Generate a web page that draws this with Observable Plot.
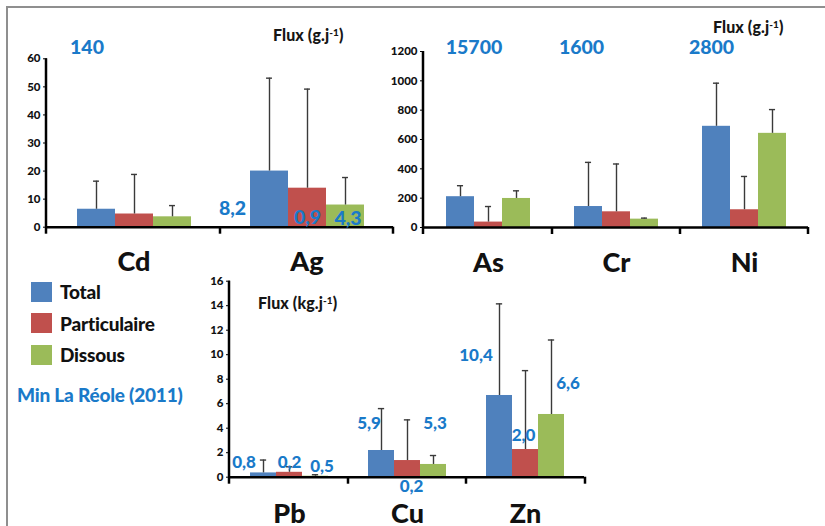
<!DOCTYPE html>
<html>
<head>
<meta charset="utf-8">
<script src="https://cdn.jsdelivr.net/npm/d3@7"></script>
<script src="https://cdn.jsdelivr.net/npm/@observablehq/plot@0.6"></script>
<style>
  body { margin: 0; background: #fff; }
  #root { position: relative; width: 825px; height: 526px; overflow: hidden; font-family: Lato, "Open Sans", sans-serif; background: #fff; }
  .panel { position: absolute; }
  .frame { position: absolute; left: 6px; top: 6px; width: 900px; height: 600px; border-left: 2px solid #8f8f8f; border-top: 2px solid #8f8f8f; }
  .flux { position: absolute; font-weight: 900; font-size: 16px; line-height: 16px; color: #161616; white-space: nowrap; letter-spacing: 0.1px; }
  .flux sup { font-size: 10px; vertical-align: 5px; line-height: 0; }
  .lg { position: absolute; display: flex; align-items: center; font-weight: 900; font-size: 19px; color: #111; white-space: nowrap; letter-spacing: -0.2px; }
  .sw { width: 21px; height: 20px; margin-right: 8px; }
  .minlabel { position: absolute; font-weight: 900; font-size: 19px; color: #1a7ac9; white-space: nowrap; letter-spacing: -0.2px; }
</style>
</head>
<body>
<div id="root"><div class="frame"></div></div>
<script>
// ---------- data ----------
const series = ["Total", "Particulaire", "Dissous"];
const colors = ["#4f81bd", "#c0504d", "#9bbb59"];
const annotColor = "#1a7ac9";

// Panel 1 : Cd, Ag (g/j)
const cats1 = ["Cd", "Ag"];
const total1 = [6.4, 20.0];
const part1 = [4.7, 13.9];
const diss1 = [3.7, 7.9];
const sdTotal1 = [10.0, 33.1];
const sdPart1 = [14.1, 35.3];
const sdDiss1 = [4.0, 9.8];
const yTicks1 = [0, 10, 20, 30, 40, 50, 60];

// Panel 2 : As, Cr, Ni (g/j)
const cats2 = ["As", "Cr", "Ni"];
const total2 = [210, 143, 690];
const part2 = [37, 107, 121];
const diss2 = [198, 57, 642];
const sdTotal2 = [75, 301, 294];
const sdPart2 = [106, 326, 227];
const sdDiss2 = [52, 7, 162];
const yTicks2 = [0, 200, 400, 600, 800, 1000, 1200];

// Panel 3 : Pb, Cu, Zn (kg/j)
const cats3 = ["Pb", "Cu", "Zn"];
const total3 = [0.35, 2.18, 6.67];
const part3 = [0.40, 1.36, 2.26];
const diss3 = [0.08, 1.04, 5.12];
const sdTotal3 = [1.05, 3.42, 7.48];
const sdPart3 = [0.45, 3.32, 6.44];
const sdDiss3 = [0.12, 0.73, 6.08];
const yTicks3 = [0, 2, 4, 6, 8, 10, 12, 14, 16];

// "Min La Réole (2011)" values (annotation text)
const minCats1 = ["Cd", "Ag", "Ag", "Ag"];
const minSeries1 = ["Total", "Total", "Particulaire", "Dissous"];
const minText1 = ["140", "8,2", "0,9", "4,3"];
const minCats2 = ["As", "Cr", "Ni"];
const minSeries2 = ["Total", "Total", "Total"];
const minText2 = ["15700", "1600", "2800"];
const minCats3 = ["Pb", "Pb", "Pb", "Cu", "Cu", "Cu", "Zn", "Zn", "Zn"];
const minSeries3 = ["Total", "Particulaire", "Dissous", "Total", "Particulaire", "Dissous", "Total", "Particulaire", "Dissous"];
const minText3 = ["0,8", "0,2", "0,5", "5,9", "0,2", "5,3", "10,4", "2,0", "6,6"];

// ---------- layout (label placement, not data) ----------
const annLayout1 = [{y: 63.8, dx: -9.5}, {y: 6.7, dx: -37}, {y: 3.5, dx: 0}, {y: 3.1, dx: 2.5}];
const annLayout2 = [{y: 1227, dx: 13.5}, {y: 1227, dx: -7}, {y: 1227, dx: -5}];
const annLayout3 = [{y: 1.2, dx: -19.5}, {y: 1.2, dx: 0}, {y: 0.87, dx: 6.5}, {y: 4.4, dx: -12.5}, {y: -0.8, dx: 4}, {y: 4.4, dx: 1.5}, {y: 9.93, dx: -23.5}, {y: 3.4, dx: -2}, {y: 7.65, dx: 16.5}];

function rows(cats, tot, part, diss, sdT, sdP, sdD) {
  const out = [];
  cats.forEach((c, i) => {
    out.push({cat: c, series: "Total", value: tot[i], sd: sdT[i]});
    out.push({cat: c, series: "Particulaire", value: part[i], sd: sdP[i]});
    out.push({cat: c, series: "Dissous", value: diss[i], sd: sdD[i]});
  });
  return out;
}
function annots(cats, ser, text, layout) {
  return cats.map((c, i) => ({cat: c, series: ser[i], text: text[i], y: layout[i].y, dx: layout[i].dx}));
}

const root = document.getElementById("root");
const padOuter = 0.72;

function panel(o) {
  const frameW = o.width - o.marginLeft - o.marginRight;
  const bw = frameW / o.cats.length / (3 + 2 * padOuter);
  const capInset = Math.max(0, (bw - 7) / 2);
  const yMax = o.ticks[o.ticks.length - 1];
  const annMarks = o.ann.map(a => Plot.text([a], {
    fx: "cat", x: "series", y: "y", text: "text", dx: a.dx,
    fill: annotColor, fontSize: o.annSize, fontWeight: 900
  }));
  const plot = Plot.plot({
    width: o.width, height: o.height,
    marginLeft: o.marginLeft, marginRight: o.marginRight,
    marginTop: o.marginTop, marginBottom: o.marginBottom,
    style: {background: "transparent", fontFamily: "Lato, 'Open Sans', sans-serif", overflow: "visible", color: "#111"},
    fx: {domain: o.cats, padding: 0, label: null},
    x: {domain: series, paddingInner: 0, paddingOuter: padOuter, axis: null},
    y: {domain: [0, yMax], axis: null},
    color: {domain: series, range: colors},
    marks: [
      Plot.barY(o.data, {fx: "cat", x: "series", y: "value", fill: "series"}),
      Plot.ruleX(o.data, {fx: "cat", x: "series", y1: "value", y2: d => d.value + d.sd, stroke: "#3a3a3a", strokeWidth: 1.4}),
      Plot.tickY(o.data, {fx: "cat", x: "series", y: d => d.value + d.sd, stroke: "#3a3a3a", strokeWidth: 1.4, insetLeft: capInset, insetRight: capInset}),
      Plot.ruleY([0], {stroke: "#000", strokeWidth: 2.5}),
      Plot.axisY({ticks: o.ticks, tickSize: 4, tickPadding: 3, fontSize: 11.5, fontWeight: 900, tickFormat: d => String(d), stroke: "#000"}),
      Plot.axisFx({anchor: "bottom", tickSize: 0, tickPadding: o.fxPad, fontSize: 27, fontWeight: 900, label: null}),
      ...annMarks
    ]
  });
  // axis line and category boundary ticks, from Plot's own scales
  const fxS = plot.scale("fx"), yS = plot.scale("y");
  const svg = d3.select(plot);
  const y0 = yS.apply(0), yTop = yS.apply(yMax);
  const g = svg.append("g").attr("stroke", "#000").attr("stroke-width", 2.5);
  g.append("line").attr("x1", o.marginLeft).attr("x2", o.marginLeft).attr("y1", yTop).attr("y2", y0 + 7);
  const bounds = o.cats.map(c => fxS.apply(c)).concat([o.width - o.marginRight]);
  bounds.slice(1).forEach(x => g.append("line").attr("x1", x).attr("x2", x).attr("y1", y0).attr("y2", y0 + 7));
  const div = document.createElement("div");
  div.className = "panel";
  div.style.left = o.left + "px";
  div.style.top = o.top + "px";
  div.appendChild(plot);
  root.appendChild(div);
}

panel({
  cats: cats1, data: rows(cats1, total1, part1, diss1, sdTotal1, sdPart1, sdDiss1),
  ticks: yTicks1, ann: annots(minCats1, minSeries1, minText1, annLayout1), annSize: 19.5,
  left: 0, top: 0, width: 400, height: 300,
  marginLeft: 46, marginRight: 7, marginTop: 58.3, marginBottom: 73.3, fxPad: 25
});
panel({
  cats: cats2, data: rows(cats2, total2, part2, diss2, sdTotal2, sdPart2, sdDiss2),
  ticks: yTicks2, ann: annots(minCats2, minSeries2, minText2, annLayout2), annSize: 19.5,
  left: 380, top: 0, width: 445, height: 300,
  marginLeft: 43, marginRight: 17, marginTop: 51, marginBottom: 73, fxPad: 25
});
panel({
  cats: cats3, data: rows(cats3, total3, part3, diss3, sdTotal3, sdPart3, sdDiss3),
  ticks: yTicks3, ann: annots(minCats3, minSeries3, minText3, annLayout3), annSize: 17,
  left: 190, top: 260, width: 410, height: 266,
  marginLeft: 39, marginRight: 15, marginTop: 20.7, marginBottom: 49.3, fxPad: 27
});

// unit labels
function flux(html, left, top) {
  const d = document.createElement("div");
  d.className = "flux";
  d.innerHTML = html;
  d.style.left = left + "px"; d.style.top = top + "px";
  root.appendChild(d);
}
flux("Flux (g.j<sup>-1</sup>)", 273, 27);
flux("Flux (g.j<sup>-1</sup>)", 713, 19);
flux("Flux (kg.j<sup>-1</sup>)", 258, 295);

// legend
const legendTops = [280, 311.5, 343];
series.forEach((s, i) => {
  const d = document.createElement("div");
  d.className = "lg";
  d.style.left = "31px"; d.style.top = legendTops[i] + "px";
  d.innerHTML = `<span class="sw" style="background:${colors[i]}"></span><span>${s}</span>`;
  root.appendChild(d);
});
const m = document.createElement("div");
m.className = "minlabel";
m.textContent = "Min La Réole (2011)";
m.style.left = "17px"; m.style.top = "383px";
root.appendChild(m);
</script>
</body>
</html>
